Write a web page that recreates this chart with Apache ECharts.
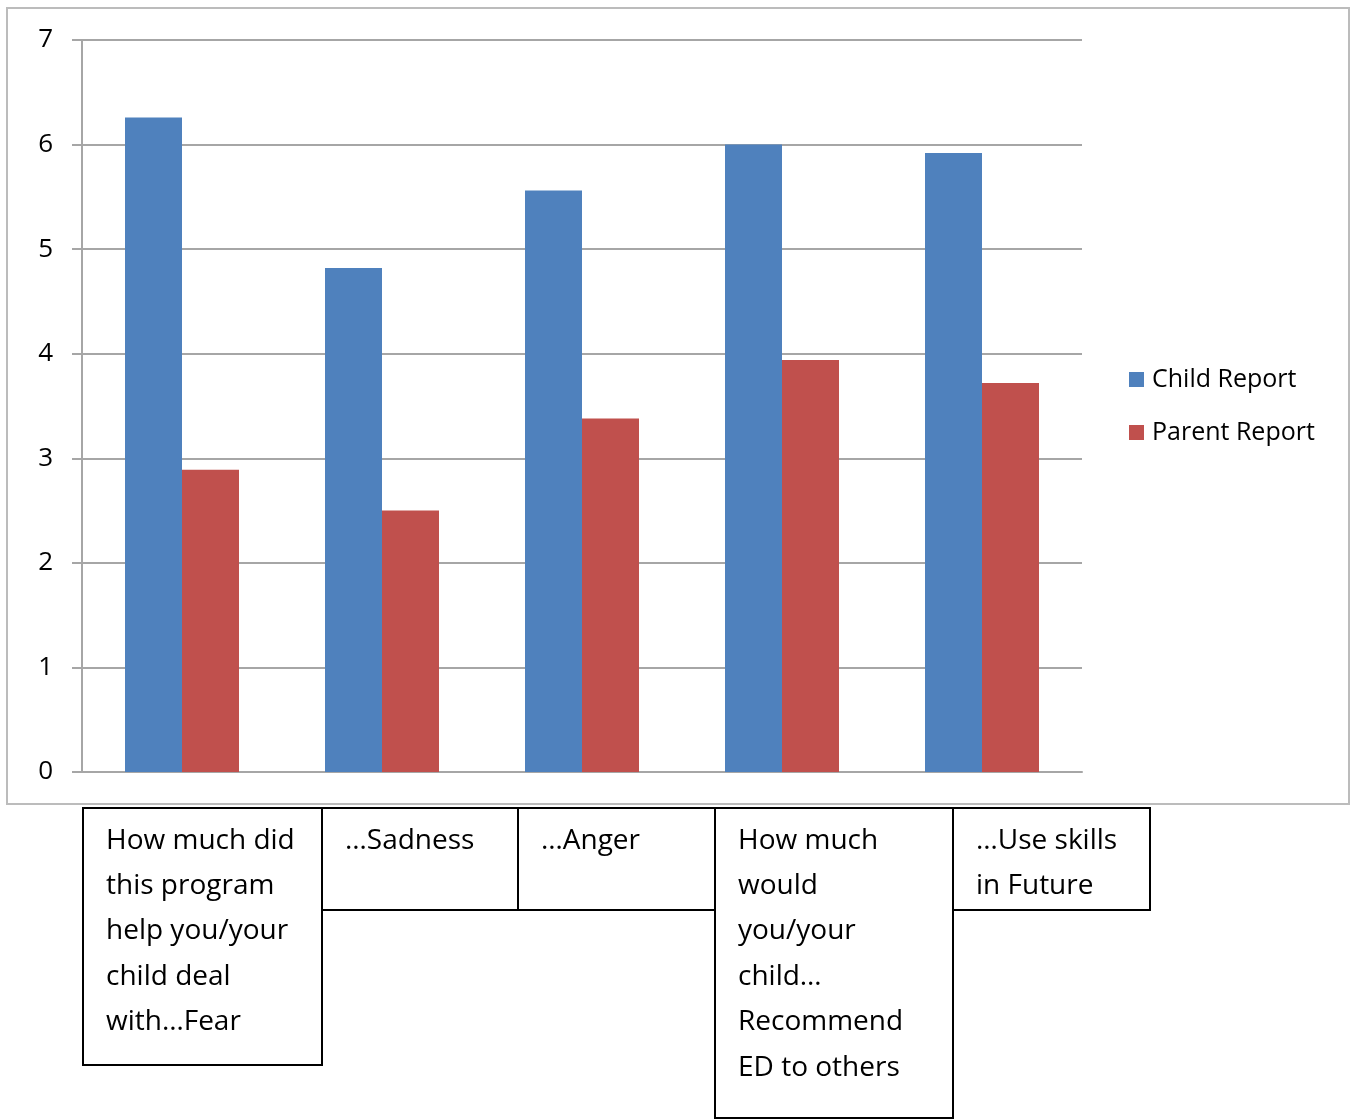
<!DOCTYPE html>
<html>
<head>
<meta charset="utf-8">
<script src="https://cdn.jsdelivr.net/npm/echarts@6/dist/echarts.min.js"></script>
<style>
html,body{margin:0;padding:0;background:#fff;}
#c{width:1353px;height:1119px;}
</style>
</head>
<body>
<div id="c"></div>
<script>
var categories = [
  "How much did\nthis program\nhelp you/your\nchild deal\nwith…Fear",
  "…Sadness",
  "…Anger",
  "How much\nwould\nyou/your\nchild…\nRecommend\nED to others",
  "…Use skills\nin Future"
];
var seriesNames = ["Child Report", "Parent Report"];
var childReport = [6.26, 4.82, 5.56, 6.0, 5.92];
var parentReport = [2.89, 2.50, 3.38, 3.94, 3.72];
var yTicks = [0, 1, 2, 3, 4, 5, 6, 7];

var FONT = "'Open Sans', sans-serif";

// label box layout (x, width, height) - presentation only
var boxLayout = [
  {x: 83, w: 239, h: 257},
  {x: 322, w: 196, h: 102},
  {x: 518, w: 197, h: 102},
  {x: 715, w: 238, h: 310},
  {x: 953, w: 197, h: 102}
];

var chart = echarts.init(document.getElementById('c'));

var graphics = [
  {type: 'rect', shape: {x: 7, y: 8, width: 1342, height: 796},
   style: {fill: 'none', stroke: '#bcbcbc', lineWidth: 2}, z: -1}
];
categories.forEach(function (txt, i) {
  var b = boxLayout[i];
  graphics.push({
    type: 'rect', shape: {x: b.x, y: 808, width: b.w, height: b.h},
    style: {fill: '#fff', stroke: '#000', lineWidth: 2}
  });
  graphics.push({
    type: 'text', x: b.x + 23, y: 818,
    style: {text: txt, fill: '#000', font: "28px " + FONT, lineHeight: 45.4,
            textVerticalAlign: 'top', verticalAlign: 'top'}
  });
});

chart.setOption({
  animation: false,
  backgroundColor: '#fff',
  grid: {left: 82, top: 40, width: 1000, height: 732, containLabel: false},
  legend: {
    orient: 'vertical', left: 1124, top: 362,
    itemWidth: 15, itemHeight: 15, itemGap: 28,
    icon: 'rect',
    textStyle: {fontFamily: FONT, fontSize: 25, color: '#000', padding: [0, 0, 0, 3]},
    data: seriesNames
  },
  xAxis: {
    type: 'category', data: categories,
    axisLine: {show: true, lineStyle: {color: '#a6a6a6', width: 2}},
    axisTick: {show: false},
    axisLabel: {show: false},
    splitLine: {show: false}
  },
  yAxis: {
    type: 'value', min: yTicks[0], max: yTicks[yTicks.length - 1], interval: 1,
    axisLine: {show: true, lineStyle: {color: '#a6a6a6', width: 2}},
    axisTick: {show: true, length: 10, lineStyle: {color: '#a6a6a6', width: 2}},
    axisLabel: {fontFamily: FONT, fontSize: 26, color: '#000', margin: 29},
    splitLine: {show: true, lineStyle: {color: '#a6a6a6', width: 2}}
  },
  series: [
    {name: seriesNames[0], type: 'bar', data: childReport, barGap: '0%', barCategoryGap: '43%',
     itemStyle: {color: '#4F81BD'}},
    {name: seriesNames[1], type: 'bar', data: parentReport, barGap: '0%', barCategoryGap: '43%',
     itemStyle: {color: '#C0504D'}}
  ],
  graphic: graphics
});
</script>
</body>
</html>
